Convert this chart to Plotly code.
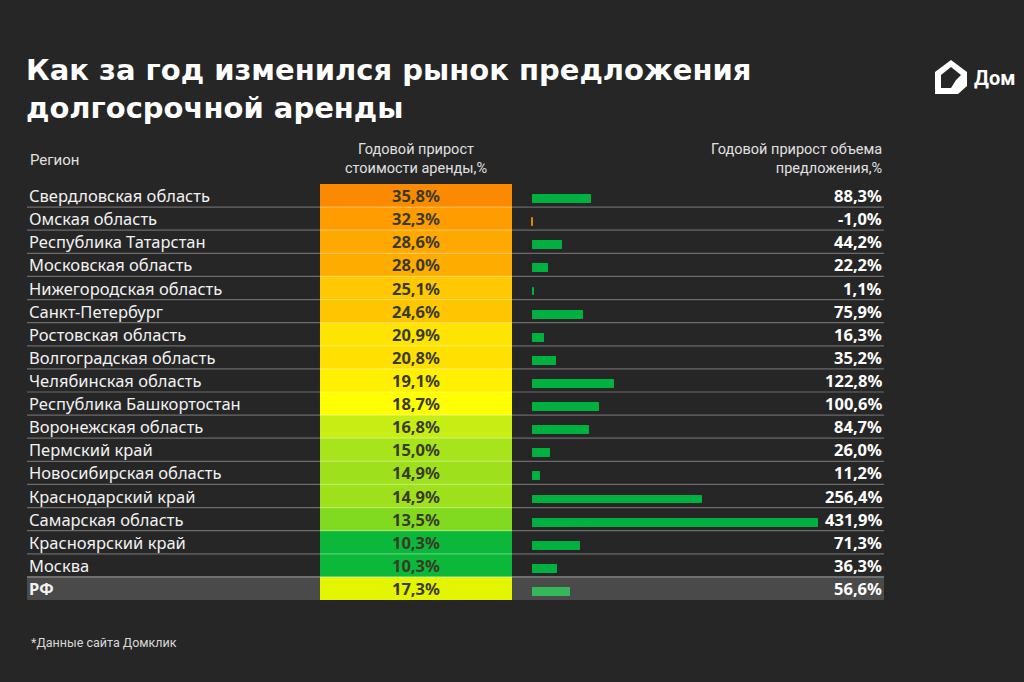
import plotly.graph_objects as go

regions = ["Свердловская область", "Омская область", "Республика Татарстан", "Московская область",
           "Нижегородская область", "Санкт-Петербург", "Ростовская область", "Волгоградская область",
           "Челябинская область", "Республика Башкортостан", "Воронежская область", "Пермский край",
           "Новосибирская область", "Краснодарский край", "Самарская область", "Красноярский край",
           "Москва", "РФ"]
rent_growth = [35.8, 32.3, 28.6, 28.0, 25.1, 24.6, 20.9, 20.8, 19.1, 18.7, 16.8, 15.0, 14.9, 14.9, 13.5, 10.3, 10.3, 17.3]
supply_growth = [88.3, -1.0, 44.2, 22.2, 1.1, 75.9, 16.3, 35.2, 122.8, 100.6, 84.7, 26.0, 11.2, 256.4, 431.9, 71.3, 36.3, 56.6]
cell_colors = ["#fc8a00", "#ff9d00", "#ffa800", "#ffac00", "#ffc800", "#ffc600", "#ffe400", "#ffe000",
               "#fff000", "#ffff00", "#c6ee14", "#a8e41c", "#9ee01c", "#9ee01c", "#82da20", "#0cb83a",
               "#0cb83a", "#e4f500"]
bar_colors = ["#00b140"] * 17 + ["#35b85a"]
bar_colors[1] = "#e08800"

title = "Как за год изменился рынок предложения<br>долгосрочной аренды"
hdr_region = "Регион"
hdr_rent = "Годовой прирост<br>стоимости аренды,%"
hdr_supply = "Годовой прирост объема<br>предложения,%"
footnote = "*Данные сайта Домклик"
logo_text = "Дом"

W, H = 1024, 682
def px(x):
    return x / W
def py(y):
    return 1 - y / H

fmt = lambda v: f"{v:.1f}".replace(".", ",") + "%"
n = len(regions)

fig = go.Figure()

fig.add_trace(go.Bar(
    y=regions, x=[1] * n, base=0, orientation="h", width=1.0,
    marker=dict(color=cell_colors, line=dict(width=0)),
    text=[fmt(v) for v in rent_growth], textposition="inside", insidetextanchor="middle",
    textangle=0, constraintext="none",
    textfont=dict(family="Noto Sans", size=16.5, color="#3a3a28", weight="bold"),
    xaxis="x", yaxis="y", hoverinfo="skip", showlegend=False))

fig.add_trace(go.Bar(
    y=regions, x=supply_growth, orientation="h", width=0.34, offset=-0.02,
    marker=dict(color=bar_colors, line=dict(color=bar_colors, width=1)),
    xaxis="x2", yaxis="y", hoverinfo="skip", showlegend=False))

shapes = []
# RF row background
shapes.append(dict(type="rect", xref="paper", yref="y", x0=px(27), x1=px(884),
                   y0=n - 1 - 0.5, y1=n - 1 + 0.5, fillcolor="#4a4a4a", line_width=0, layer="below"))
for i in range(n - 1):
    shapes.append(dict(type="line", xref="paper", yref="y", x0=px(27), x1=px(884),
                       y0=i + 0.5, y1=i + 0.5,
                       line=dict(color="rgba(255,255,255,0.32)" if i < n - 2 else "rgba(255,255,255,0.45)", width=1.2),
                       layer="above"))
# logo
shapes.append(dict(type="path", xref="paper", yref="paper",
                   path=f"M {px(935)} {py(94)} L {px(935)} {py(72)} L {px(951)} {py(60)} L {px(967)} {py(72)} "
                        f"L {px(967)} {py(86)} L {px(958)} {py(94)} Z",
                   fillcolor="#ffffff", line=dict(width=0)))
shapes.append(dict(type="path", xref="paper", yref="paper",
                   path=f"M {px(941)} {py(88)} L {px(941)} {py(75)} L {px(951)} {py(67)} L {px(961)} {py(75)} "
                        f"L {px(956)} {py(80)} L {px(951)} {py(88)} Z",
                   fillcolor="#262626", line=dict(width=0)))

annotations = []
for i, r in enumerate(regions):
    annotations.append(dict(xref="paper", yref="y", x=px(27), y=r, xanchor="left", yanchor="middle",
                            text=f"<b>{r}</b>" if r == "РФ" else r, showarrow=False,
                            font=dict(family="Noto Sans", size=16.5, color="#f2f2f2")))
    annotations.append(dict(xref="paper", yref="y", x=px(884), y=r, xanchor="right", yanchor="middle",
                            text=f"<b>{fmt(supply_growth[i])}</b>", showarrow=False,
                            font=dict(family="Noto Sans", size=16.5, color="#ffffff")))

annotations += [
    dict(xref="paper", yref="paper", x=px(24), y=py(89), xanchor="left", yanchor="middle",
         text=f"<b>{title}</b>", showarrow=False, align="left",
         font=dict(family="DejaVu Sans", size=29, color="#ffffff")),
    dict(xref="paper", yref="paper", x=px(28), y=py(160), xanchor="left", yanchor="middle",
         text=hdr_region, showarrow=False, font=dict(family="Roboto", size=15, color="#e0e0e0")),
    dict(xref="paper", yref="paper", x=px(416), y=py(159), xanchor="center", yanchor="middle",
         text=hdr_rent, showarrow=False, align="center", font=dict(family="Roboto", size=14.5, color="#e0e0e0")),
    dict(xref="paper", yref="paper", x=px(884), y=py(159), xanchor="right", yanchor="middle",
         text=hdr_supply, showarrow=False, align="right", font=dict(family="Roboto", size=14.5, color="#e0e0e0")),
    dict(xref="paper", yref="paper", x=px(29), y=py(642), xanchor="left", yanchor="middle",
         text=footnote, showarrow=False, font=dict(family="Roboto", size=12.5, color="#d8d8d8")),
    dict(xref="paper", yref="paper", x=px(972), y=py(78), xanchor="left", yanchor="middle",
         text=f"<b>{logo_text}</b>", showarrow=False, font=dict(family="Roboto", size=20, color="#ffffff")),
]

fig.update_layout(
    width=W, height=H, margin=dict(l=0, r=0, t=0, b=0),
    paper_bgcolor="#262626", plot_bgcolor="rgba(0,0,0,0)",
    barmode="overlay", bargap=0,
    xaxis=dict(domain=[px(320), px(512)], range=[0, 1], visible=False, fixedrange=True),
    xaxis2=dict(domain=[px(528), px(884)], range=[-5 * 431.9 / 285, 431.9 * 351 / 285], visible=False,
                anchor="y", fixedrange=True),
    yaxis=dict(domain=[py(600), py(184)], range=[n - 0.5, -0.5], type="category",
               categoryorder="array", categoryarray=regions, visible=False, fixedrange=True),
    shapes=shapes, annotations=annotations, showlegend=False,
)

fig.write_html("out.html", config={"displayModeBar": False},
               post_script="document.body.style.margin='0';document.body.style.background='#262626';")
